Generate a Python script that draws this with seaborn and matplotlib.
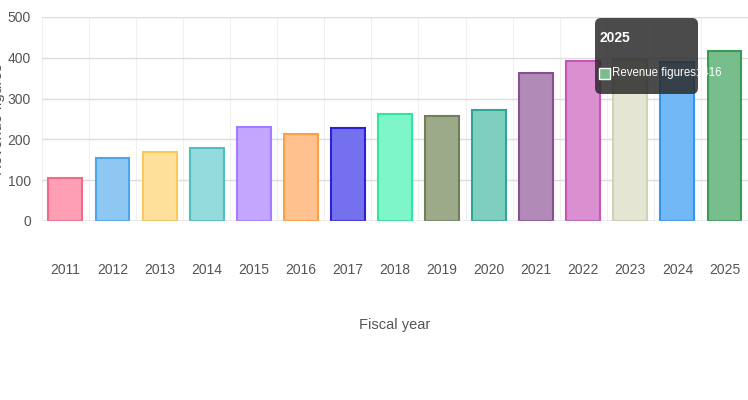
import matplotlib
matplotlib.use("Agg")
import matplotlib.pyplot as plt
import seaborn as sns
import pandas as pd
from matplotlib.patches import FancyBboxPatch, Rectangle

years = [str(y) for y in range(2011, 2026)]
revenue = [105, 155, 169, 180, 231, 213, 227, 263, 258, 271, 363, 392, 395, 390, 416]
fills = ["#ff9fb5", "#8cc8f2", "#ffe09b", "#93dbdc", "#c3a6ff", "#ffc28f", "#7570ee",
         "#7ff6c9", "#9daa89", "#7fcfc0", "#b18ab8", "#da8fd0", "#e4e5d3", "#72b8f6", "#78bd8c"]
edges = ["#f06a8a", "#4aa7e8", "#fcc85a", "#4fc0c0", "#a57bff", "#ff9f45", "#2a22d8",
         "#2de89f", "#6f7f5a", "#2fa796", "#8a4f93", "#c656b6", "#cfd2b5", "#3395ef", "#3a9a58"]

sns.set_style("white")
plt.rcParams["font.family"] = ["Liberation Sans Narrow", "Liberation Sans", "DejaVu Sans"]

df = pd.DataFrame({"year": years, "revenue": revenue})
fig = plt.figure(figsize=(7.48, 4.0), dpi=100)
ax = fig.add_axes([0.056, 0.4475, 0.944, 0.51])

sns.barplot(data=df, x="year", y="revenue", hue="year", palette=fills, legend=False,
            saturation=1, width=0.72, ax=ax, zorder=3)
for bar, ec in zip(ax.patches, edges):
    bar.set_edgecolor(ec)
    bar.set_linewidth(1.5)

ax.set_ylim(0, 500)
ax.set_xlim(-0.5, len(years) - 0.5)
ax.set_yticks(range(0, 501, 100))
ax.grid(axis="y", color="#dddddd", lw=1, zorder=0)
for i in range(len(years) + 1):
    ax.axvline(i - 0.5, color="#f0f0f0", lw=0.8, zorder=0)
for s in ax.spines.values():
    s.set_visible(False)
ax.axhline(0, color="#bbbbbb", lw=1, zorder=4)
ax.tick_params(axis="x", length=0, pad=30, labelsize=10, labelcolor="#555555")
ax.tick_params(axis="y", length=6, color="#cccccc", labelsize=10, labelcolor="#555555", pad=2)
ax.set_xlabel("Fiscal year", fontsize=10.5, color="#555555", labelpad=30)
ax.set_ylabel("Revenue figures", fontsize=11, color="#555555", labelpad=2)

# tooltip for the 2025 bar
tip = FancyBboxPatch((595, 306), 103, 76, boxstyle="round,pad=0,rounding_size=6",
                     transform=None, fc="#2b2b2b", ec="none", alpha=0.85, zorder=10)
fig.patches.append(tip)
fig.text(599 / 748, 1 - 38 / 400, "2025", fontsize=10, fontweight="bold", color="white",
         va="center", zorder=11)
fig.patches.append(Rectangle((599, 321), 11, 11, transform=None, fc="#78bd8c",
                             ec="white", lw=1, zorder=11))
fig.text(612 / 748, 1 - 73 / 400, "Revenue figures: 416", fontsize=8.3, color="white",
         va="center", zorder=11)

fig.savefig("out.png", dpi=100)
